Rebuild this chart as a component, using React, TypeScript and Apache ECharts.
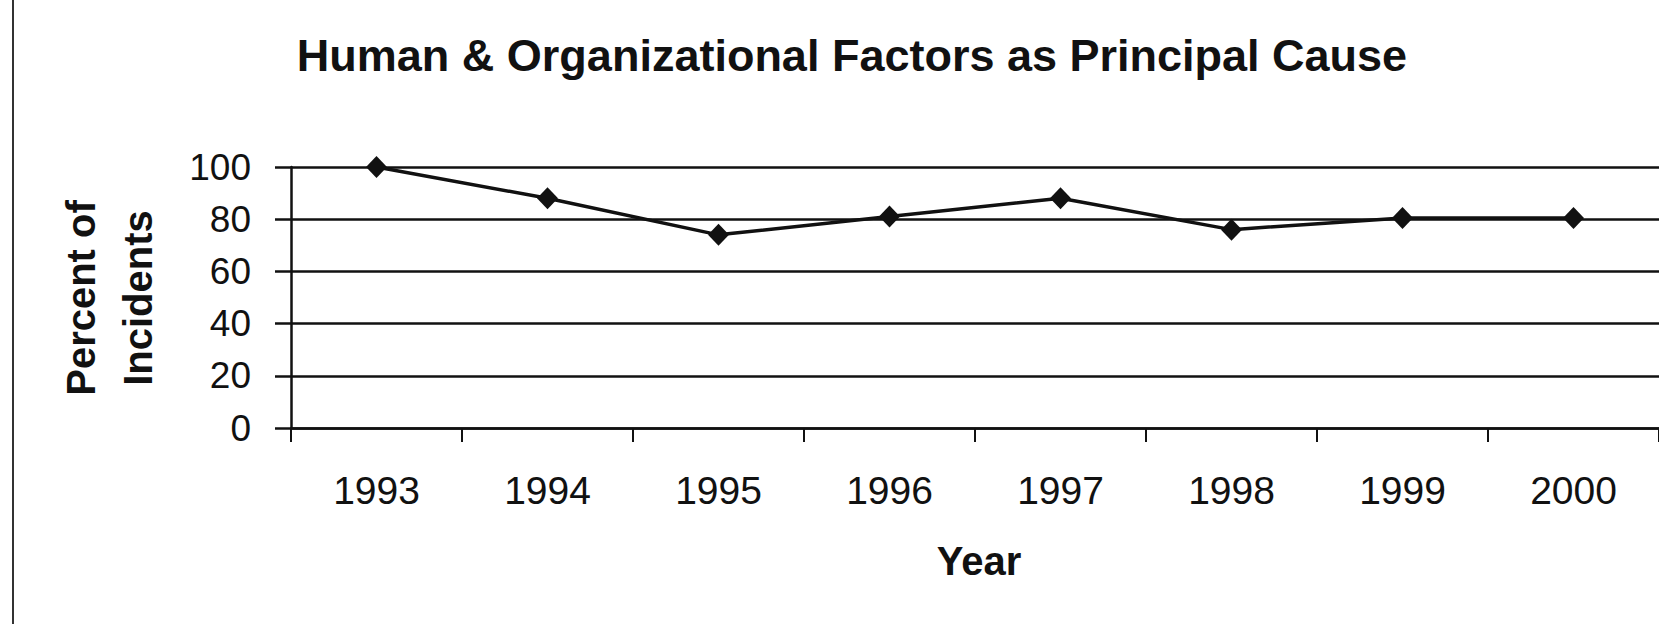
import React, { useEffect, useRef } from "react";
import * as echarts from "echarts";

const title = "Human & Organizational Factors as Principal Cause";
const years = ["1993", "1994", "1995", "1996", "1997", "1998", "1999", "2000"];
const percentOfIncidents = [100, 88, 74, 81, 88, 76, 80.5, 80.5];
const yTicks = { min: 0, max: 100, interval: 20 };
const yAxisTitle = "Percent of\nIncidents";
const xAxisTitle = "Year";

const FONT = "'Liberation Sans', Arial, sans-serif";
const INK = "#111";

export default function App() {
  const ref = useRef<HTMLDivElement>(null);

  useEffect(() => {
    if (!ref.current) return;
    const chart = echarts.init(ref.current, null, { renderer: "svg" });
    chart.setOption({
      animation: false,
      backgroundColor: "#fff",
      grid: { left: 291, right: -8, top: 167, bottom: 196, containLabel: false },
      xAxis: {
        type: "category",
        data: years,
        boundaryGap: true,
        axisLine: { show: true, lineStyle: { color: INK, width: 2.5 } },
        axisTick: { show: true, length: 14, lineStyle: { color: INK, width: 2 } },
        axisLabel: { color: INK, fontFamily: FONT, fontSize: 39, margin: 43 },
        splitLine: { show: false },
      },
      yAxis: {
        type: "value",
        min: yTicks.min,
        max: yTicks.max,
        interval: yTicks.interval,
        axisLine: { show: true, lineStyle: { color: INK, width: 2.5 } },
        axisTick: { show: true, length: 16, lineStyle: { color: INK, width: 2.5 } },
        axisLabel: { color: INK, fontFamily: FONT, fontSize: 37, margin: 40 },
        splitLine: { show: true, lineStyle: { color: INK, width: 2.5 } },
      },
      series: [
        {
          type: "line",
          data: percentOfIncidents,
          symbol: "diamond",
          symbolSize: [21, 22],
          itemStyle: { color: INK },
          lineStyle: { color: INK, width: 3.5 },
        },
      ],
      graphic: [
        {
          type: "line",
          shape: { x1: 13, y1: 0, x2: 13, y2: 624 },
          style: { stroke: "#333", lineWidth: 2 },
        },
        {
          type: "text",
          x: 852,
          y: 55,
          style: {
            text: title,
            fill: INK,
            font: `bold 45px ${FONT}`,
            align: "center",
            verticalAlign: "middle",
          },
        },
        {
          type: "text",
          x: 109,
          y: 298,
          rotation: Math.PI / 2,
          style: {
            text: yAxisTitle,
            fill: INK,
            font: `bold 40px ${FONT}`,
            lineHeight: 57,
            align: "center",
            verticalAlign: "middle",
          },
        },
        {
          type: "text",
          x: 979,
          y: 561,
          style: {
            text: xAxisTitle,
            fill: INK,
            font: `bold 40px ${FONT}`,
            align: "center",
            verticalAlign: "middle",
          },
        },
      ],
    });
    return () => chart.dispose();
  }, []);

  return (
    <div
      ref={ref}
      style={{ position: "fixed", left: 0, top: 0, width: 1659, height: 624 }}
    />
  );
}
